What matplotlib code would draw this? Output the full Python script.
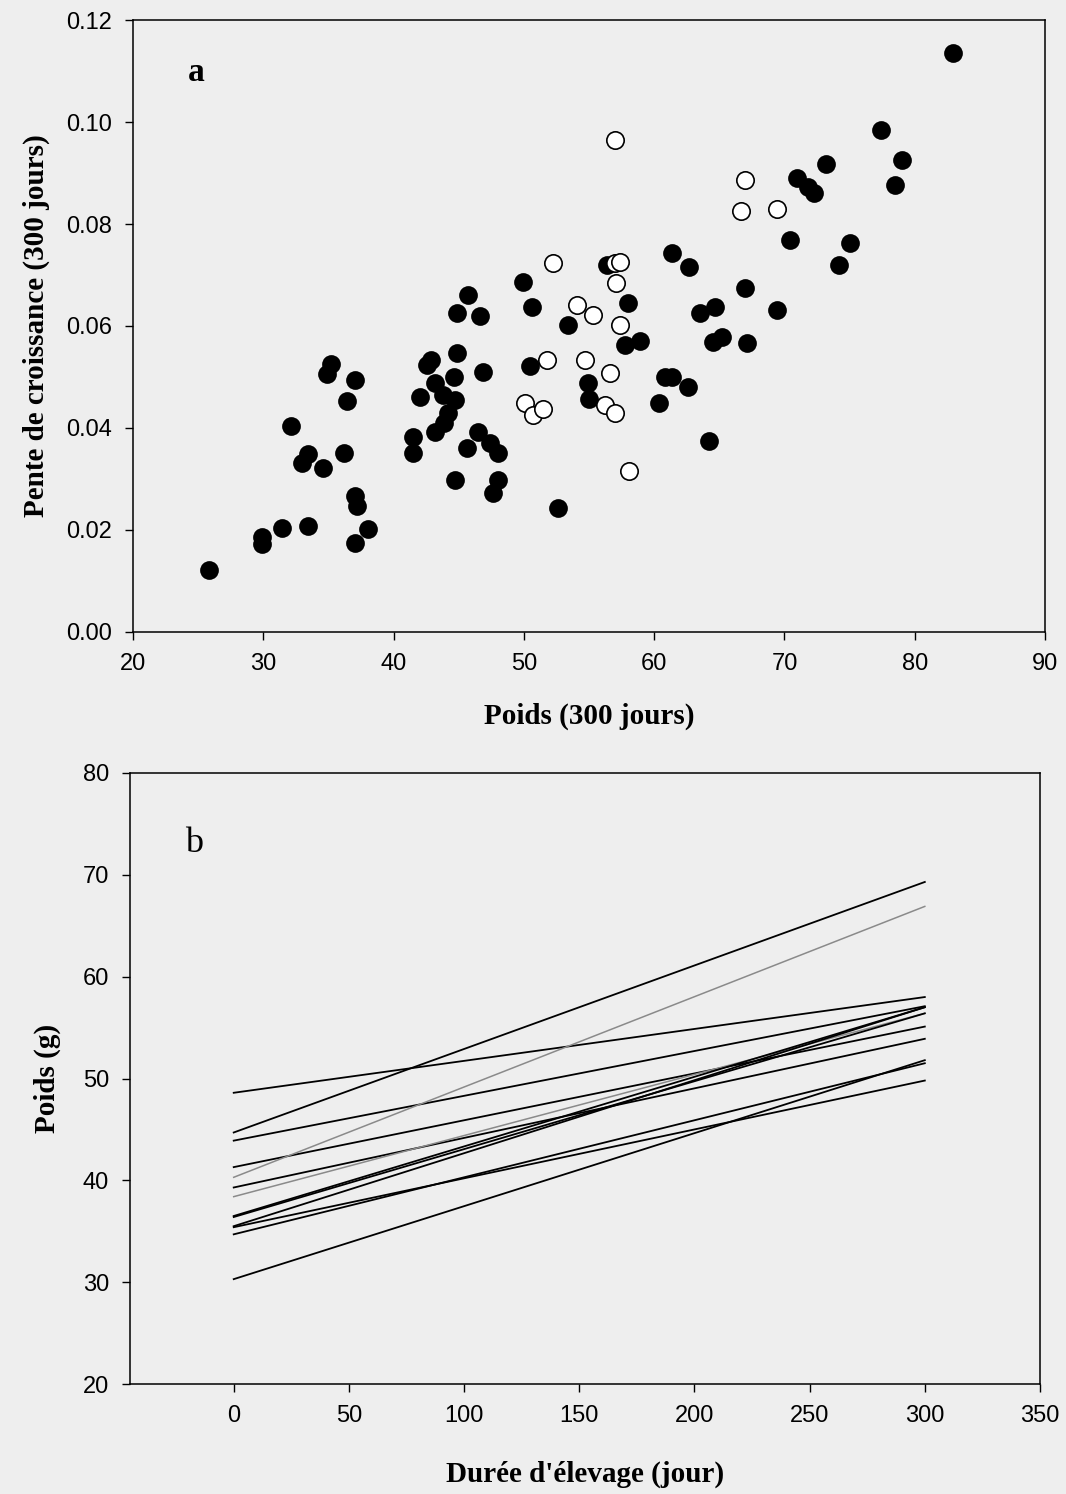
import numpy as np
import matplotlib.pyplot as plt

# panel a : poids a 300 jours vs pente de croissance
poids_plein = [25.8, 29.9, 29.9, 31.4, 32.1, 33.0, 33.4, 33.4, 34.6, 34.9, 35.2,
               36.2, 36.4, 37.0, 37.0, 37.2, 37.0, 38.0,
               45.7, 44.9, 46.6, 44.9, 42.9, 42.6, 44.6, 46.9, 43.2, 42.0, 43.8,
               44.7, 44.2, 43.9, 43.2, 41.5, 41.5, 46.5, 45.6, 47.4, 48.0, 44.7,
               48.0, 47.6,
               61.4, 62.7, 63.5, 49.9, 50.6, 53.4, 56.4, 58.0, 57.8, 58.9, 50.5,
               54.9, 55.0, 60.8, 61.4, 62.6, 60.4, 52.6,
               64.7, 64.5, 65.2, 67.1, 64.2,
               82.9, 77.4, 79.0, 78.5, 73.2, 71.0, 71.8, 72.3, 70.4, 75.0, 74.2,
               67.0, 69.4]
pente_plein = [0.0122, 0.0186, 0.0173, 0.0204, 0.0404, 0.0331, 0.0349, 0.0208,
               0.0322, 0.0506, 0.0525, 0.0351, 0.0453, 0.0494, 0.0267, 0.0247,
               0.0175, 0.0202,
               0.0661, 0.0625, 0.0620, 0.0547, 0.0533, 0.0524, 0.0500, 0.0510,
               0.0488, 0.0461, 0.0465, 0.0455, 0.0429, 0.0410, 0.0392, 0.0382,
               0.0351, 0.0392, 0.0361, 0.0371, 0.0351, 0.0298, 0.0298, 0.0273,
               0.0743, 0.0716, 0.0625, 0.0686, 0.0637, 0.0602, 0.0720, 0.0645,
               0.0563, 0.0571, 0.0522, 0.0488, 0.0457, 0.0500, 0.0500, 0.0480,
               0.0449, 0.0243,
               0.0637, 0.0569, 0.0578, 0.0567, 0.0375,
               0.1135, 0.0984, 0.0925, 0.0876, 0.0918, 0.0890, 0.0873, 0.0860,
               0.0769, 0.0762, 0.0720, 0.0675, 0.0631]

poids_vide = [52.2, 57.0, 57.4, 57.1, 54.1, 55.3, 57.4, 51.8, 54.7, 56.6, 50.1,
              50.7, 51.5, 56.2, 57.0, 58.1, 57.0, 67.0, 66.7, 69.4]
pente_vide = [0.0724, 0.0724, 0.0725, 0.0684, 0.0641, 0.0622, 0.0602, 0.0533,
              0.0533, 0.0508, 0.0449, 0.0425, 0.0437, 0.0445, 0.0429, 0.0316,
              0.0965, 0.0886, 0.0825, 0.0829]

# panel b : droites de croissance individuelles (poids a 0 et 300 jours)
jours = [0, 300]
poids_debut = [48.6, 44.7, 43.9, 41.3, 40.3, 39.3, 38.4, 36.5, 36.4, 35.5, 35.4, 34.7, 30.3]
poids_fin = [58.0, 69.3, 57.1, 55.1, 66.9, 53.9, 56.4, 57.0, 56.4, 57.0, 49.8, 51.5, 51.8]
gris = [False, False, False, False, True, False, True, False, False, False, False, False, False]

fond = '#eeeeee'
plt.rcParams['font.family'] = ['Liberation Sans', 'DejaVu Sans']
serif = ['Liberation Serif', 'DejaVu Serif']

fig = plt.figure(figsize=(10.66, 14.94), dpi=100, facecolor=fond)

ax1 = fig.add_axes([0.1248, 0.5770, 0.8555, 0.4096])
ax1.set_facecolor(fond)
ax1.plot(poids_plein, pente_plein, 'o', color='black', markersize=13.5, markeredgewidth=0)
ax1.plot(poids_vide, pente_vide, 'o', markerfacecolor='white', markeredgecolor='black',
         markersize=12.5, markeredgewidth=1.2)
ax1.set_xlim(20, 90)
ax1.set_ylim(0, 0.12)
ax1.set_xticks(np.arange(20, 91, 10))
ax1.set_yticks(np.arange(0, 0.121, 0.02))
ax1.set_yticklabels(['%.2f' % v for v in np.arange(0, 0.121, 0.02)])
ax1.set_xlabel('Poids (300 jours)', family=serif, fontweight='bold', fontsize=21, labelpad=20)
ax1.set_ylabel('Pente de croissance (300 jours)', family=serif, fontweight='bold',
               fontsize=21, labelpad=12)
ax1.text(0.06, 0.90, 'a', transform=ax1.transAxes, family=serif, fontweight='bold',
         fontsize=24)

ax2 = fig.add_axes([0.1220, 0.0736, 0.8536, 0.4090])
ax2.set_facecolor(fond)
for d, f, g in zip(poids_debut, poids_fin, gris):
    ax2.plot(jours, [d, f], color='#8a8a8a' if g else 'black', linewidth=1.1 if g else 1.3)
ax2.set_xlim(-45, 350)
ax2.set_ylim(20, 80)
ax2.set_xticks(np.arange(0, 351, 50))
ax2.set_yticks(np.arange(20, 81, 10))
ax2.set_xlabel("Durée d'élevage (jour)", family=serif, fontweight='bold', fontsize=21,
               labelpad=24)
ax2.set_ylabel('Poids (g)', family=serif, fontweight='bold', fontsize=21, labelpad=16)
ax2.text(0.06, 0.87, 'b', transform=ax2.transAxes, family=serif, fontsize=26)

for ax in (ax1, ax2):
    ax.tick_params(direction='out', length=6, width=1, labelsize=17, pad=9)
    for s in ax.spines.values():
        s.set_linewidth(1.1)

fig.savefig('out.png', dpi=100, facecolor=fond)
